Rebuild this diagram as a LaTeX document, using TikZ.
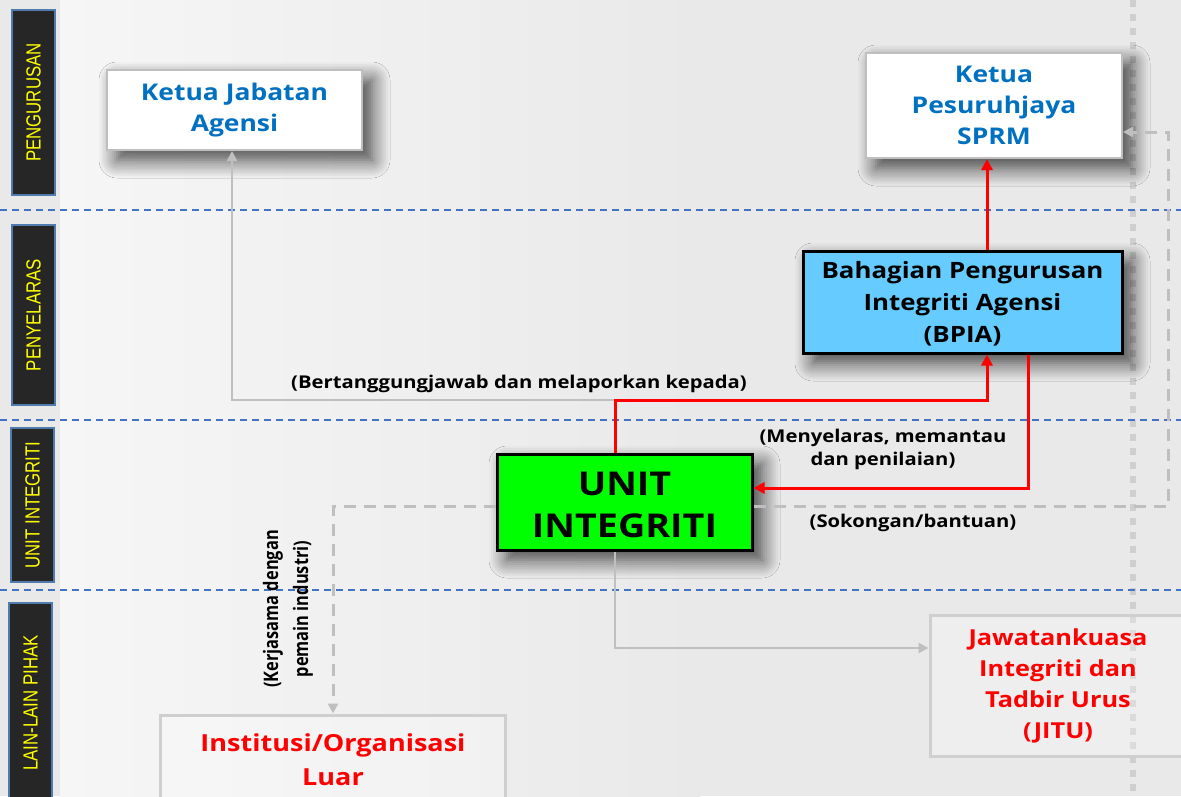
\documentclass[tikz,border=0pt]{standalone}
\usepackage{fontspec}
\setmainfont{Open Sans}
\newfontfamily\wf[FakeStretch=1.15]{Open Sans}
\newfontfamily\nf[FakeStretch=0.82]{Open Sans}
\newfontfamily\lf[FakeStretch=0.82]{Liberation Sans}
\usetikzlibrary{arrows.meta,shadows.blur,calc}
\definecolor{bg}{HTML}{E9E9E9}
\definecolor{bgl}{HTML}{F6F6F6}
\definecolor{lanebg}{HTML}{262626}
\definecolor{laneb}{HTML}{4F7BAF}
\definecolor{laney}{HTML}{FFFF00}
\definecolor{sepblue}{HTML}{4472C4}
\definecolor{txtblue}{HTML}{0070C0}
\definecolor{bpiab}{HTML}{66CCFF}
\definecolor{unitg}{HTML}{00FF00}
\definecolor{lgray}{HTML}{BFBFBF}
\definecolor{dgray}{HTML}{CFCFCF}
\definecolor{redc}{HTML}{FF0000}
\begin{document}
\begin{tikzpicture}[x=1pt,y=-1pt,
  lane/.style={draw=laneb, line width=1.5pt, fill=lanebg, text=laney, rotate=90,
    minimum height=43pt, inner sep=0pt, font=\lf\fontsize{20.5}{19}\selectfont},
  sep/.style={sepblue, line width=1.1pt, dash pattern=on 7pt off 5pt},
  boxshadow/.style={blur shadow={shadow xshift=10pt, shadow yshift=-10pt, shadow blur radius=18pt, shadow blur steps=10, shadow opacity=75}},
  whitebox/.style={draw=lgray, line width=2pt, fill=white, align=center, text=txtblue, inner sep=0pt, boxshadow,
    font=\wf\bfseries\fontsize{23}{31}\selectfont},
  thickbox/.style={draw=black, line width=3pt, align=center, inner sep=0pt, boxshadow},
  greybox/.style={draw=dgray, line width=3pt, fill=white, fill opacity=0.25, text opacity=1, align=center, text=redc, inner sep=0pt,
    font=\wf\bfseries\fontsize{22}{31}\selectfont},
  lbl/.style={align=center, text=black, inner sep=0pt, font=\wf\bfseries\fontsize{17.6}{23}\selectfont},
  redline/.style={draw=redc, line width=3pt, -{Triangle[length=11pt,width=11pt]}},
  greyline/.style={draw=lgray, line width=2.5pt, -{Triangle[length=10pt,width=10pt]}},
  greydash/.style={draw=lgray, line width=3pt, dash pattern=on 12pt off 8pt, -{Triangle[length=10pt,width=10pt]}}
]
\useasboundingbox (0,0) rectangle (1181,796);
\fill[bg] (0,0) rectangle (1181,796);
\shade[left color=bgl, right color=bg] (60,0) rectangle (700,796);

% background dotted line
\coordinate (dl1) at (1133,0);
\coordinate (dl2) at (1133,796);
\draw[draw=dgray, line width=6pt, dash pattern=on 7pt off 7pt] (dl1) -- (dl2);

% lane separators
\coordinate (s1a) at (0,210); \coordinate (s1b) at (1181,210);
\coordinate (s2a) at (0,420); \coordinate (s2b) at (1181,420);
\coordinate (s3a) at (0,590); \coordinate (s3b) at (1181,590);
\draw[sep] (s1a) -- (s1b);
\draw[sep] (s2a) -- (s2b);
\draw[sep] (s3a) -- (s3b);

% lane labels
\node[lane, minimum width=185pt] (l1) at (33.5,102.5) {PENGURUSAN};
\node[lane, minimum width=180pt] (l2) at (33.5,315) {PENYELARAS};
\node[lane, minimum width=154pt] (l3) at (32.5,505) {UNIT INTEGRITI};
\node[lane, minimum width=200pt] (l4) at (30.5,703) {LAIN-LAIN PIHAK};

% boxes
\node[whitebox, minimum width=255pt, minimum height=80pt] (kj) at (234.5,110) {Ketua Jabatan\\Agensi};
\node[whitebox, minimum width=256pt, minimum height=105pt] (sprm) at (994,105.5) {Ketua\\Pesuruhjaya\\SPRM};
\node[thickbox, fill=bpiab, minimum width=319pt, minimum height=102pt,
  font=\wf\bfseries\fontsize{22.5}{32}\selectfont] (bpia) at (962.5,302) {\rule{0pt}{20pt}Bahagian Pengurusan\\Integriti Agensi\\(BPIA)};
\node[thickbox, fill=unitg, minimum width=255pt, minimum height=96pt,
  font=\wf\bfseries\fontsize{32.8}{42}\selectfont] (unit) at (624.5,502) {\rule{0pt}{30pt}UNIT\\INTEGRITI};
\node[greybox, minimum width=256pt, minimum height=141pt] (jitu) at (1058,685.5) {Jawatankuasa\\Integriti dan\\Tadbir Urus\\(JITU)};
\node[greybox, minimum width=345pt, minimum height=90pt, font=\wf\bfseries\fontsize{23.5}{34}\selectfont] (inst) at (333,760) {Institusi/Organisasi\\Luar};

% connector helper coordinates
\coordinate (j) at (615,400);
\coordinate (rx) at (987,0);
\coordinate (rx2) at (1028,0);
\coordinate (ry) at (0,488);
\coordinate (dy) at (0,506);
\coordinate (dxt) at (1168,132);
\coordinate (dxb) at (1168,506);
\coordinate (jy) at (0,648);
\coordinate (kx) at (232,0);

% connectors
\draw[greyline] (j) -| (kx |- kj.south);
\draw[redline] (j |- unit.north) -- (j) -| (rx |- bpia.south);
\draw[redline] (rx |- bpia.north) -- (rx |- sprm.south);
\draw[redline] (rx2 |- bpia.south) |- (unit.east |- ry);
\draw[greydash] (unit.east |- dy) -- (dxb) -- (dxt) -- (sprm.east |- dxt);
\draw[greydash] (unit.west |- dy) -| (inst.north);
\draw[greyline] (j |- unit.south) |- (jitu.west |- jy);

% labels
\node[lbl] (t1) at (519,384) {(Bertanggungjawab dan melaporkan kepada)};
\node[lbl] (t2) at (883,449) {(Menyelaras, memantau\\dan penilaian)};
\node[lbl] (t3) at (913,523) {(Sokongan/bantuan)};
\node[align=center, inner sep=0pt, rotate=90, font=\nf\bfseries\fontsize{20}{30}\selectfont] (t4) at (288,609) {(Kerjasama dengan\\pemain industri)};
\end{tikzpicture}
\end{document}
